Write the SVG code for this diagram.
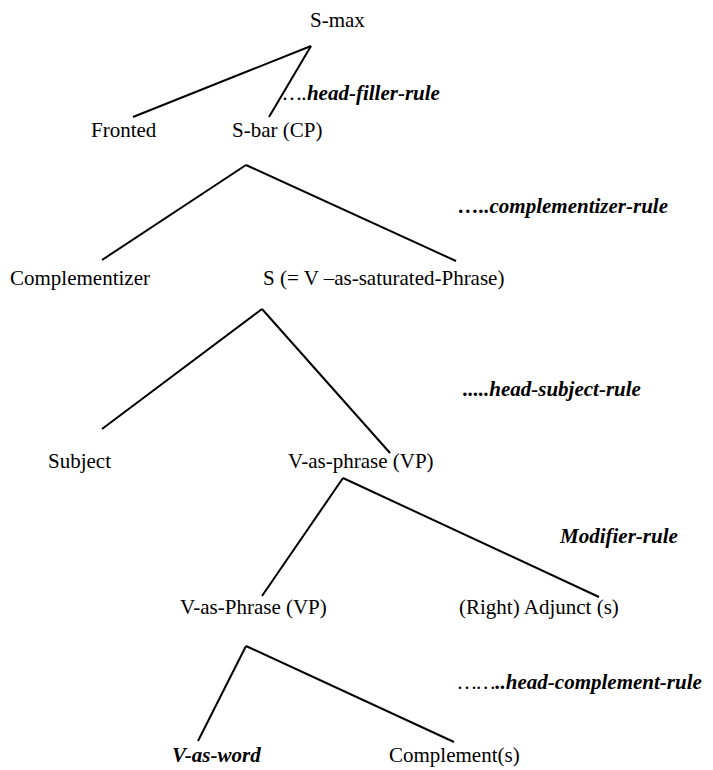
<svg xmlns="http://www.w3.org/2000/svg" width="713" height="770" viewBox="0 0 713 770">
  <style>
    .lbl { font-family: "Liberation Serif", "Times New Roman", serif; font-size: 21px; fill: #000; }
    .rule { font-family: "Liberation Serif", "Times New Roman", serif; font-size: 21px; font-style: italic; font-weight: bold; fill: #000; }
    .dots { font-weight: normal; }
    .edge { stroke: #000; stroke-width: 2; fill: none; stroke-linecap: butt; }
  </style>
  <rect width="713" height="770" fill="#fff"/>

  <!-- tree branches -->
  <g id="connectors">
    <line class="edge" x1="311" y1="46" x2="133" y2="117"/>
    <line class="edge" x1="311" y1="46" x2="269" y2="117"/>
    <line class="edge" x1="246" y1="165" x2="102" y2="260"/>
    <line class="edge" x1="246" y1="165" x2="456" y2="261"/>
    <line class="edge" x1="262" y1="309" x2="102" y2="429"/>
    <line class="edge" x1="262" y1="309" x2="390" y2="453"/>
    <line class="edge" x1="343" y1="478" x2="262" y2="596"/>
    <line class="edge" x1="343" y1="478" x2="599" y2="597"/>
    <line class="edge" x1="246" y1="646" x2="198" y2="741"/>
    <line class="edge" x1="246" y1="646" x2="454" y2="742"/>
  </g>

  <!-- category nodes -->
  <g id="s-max"><text class="lbl" x="310" y="27">S-max</text></g>
  <g id="fronted"><text class="lbl" x="91" y="137">Fronted</text></g>
  <g id="s-bar"><text class="lbl" x="232" y="137">S-bar (CP)</text></g>
  <g id="complementizer"><text class="lbl" x="10" y="285">Complementizer</text></g>
  <g id="s"><text class="lbl" x="263" y="285">S (= V –as-saturated-Phrase)</text></g>
  <g id="subject"><text class="lbl" x="48" y="468">Subject</text></g>
  <g id="v-as-phrase"><text class="lbl" x="288" y="468">V-as-phrase (VP)</text></g>
  <g id="v-as-phrase-2"><text class="lbl" x="180" y="614">V-as-Phrase (VP)</text></g>
  <g id="adjunct"><text class="lbl" x="459" y="614">(Right) Adjunct (s)</text></g>
  <g id="v-as-word"><text class="rule" x="172" y="762">V-as-word</text></g>
  <g id="complements"><text class="lbl" x="389" y="762">Complement(s)</text></g>

  <!-- rule annotations -->
  <g id="rule-head-filler"><text class="rule" x="283" y="100"><tspan class="dots">….</tspan>head-filler-rule</text></g>
  <g id="rule-complementizer"><text class="rule" x="458" y="213">…..complementizer-rule</text></g>
  <g id="rule-head-subject"><text class="rule" x="463" y="396">.....head-subject-rule</text></g>
  <g id="rule-modifier"><text class="rule" x="560" y="543">Modifier-rule</text></g>
  <g id="rule-head-complement"><text class="rule" x="458" y="689"><tspan class="dots">……</tspan>..head-complement-rule</text></g>
</svg>
